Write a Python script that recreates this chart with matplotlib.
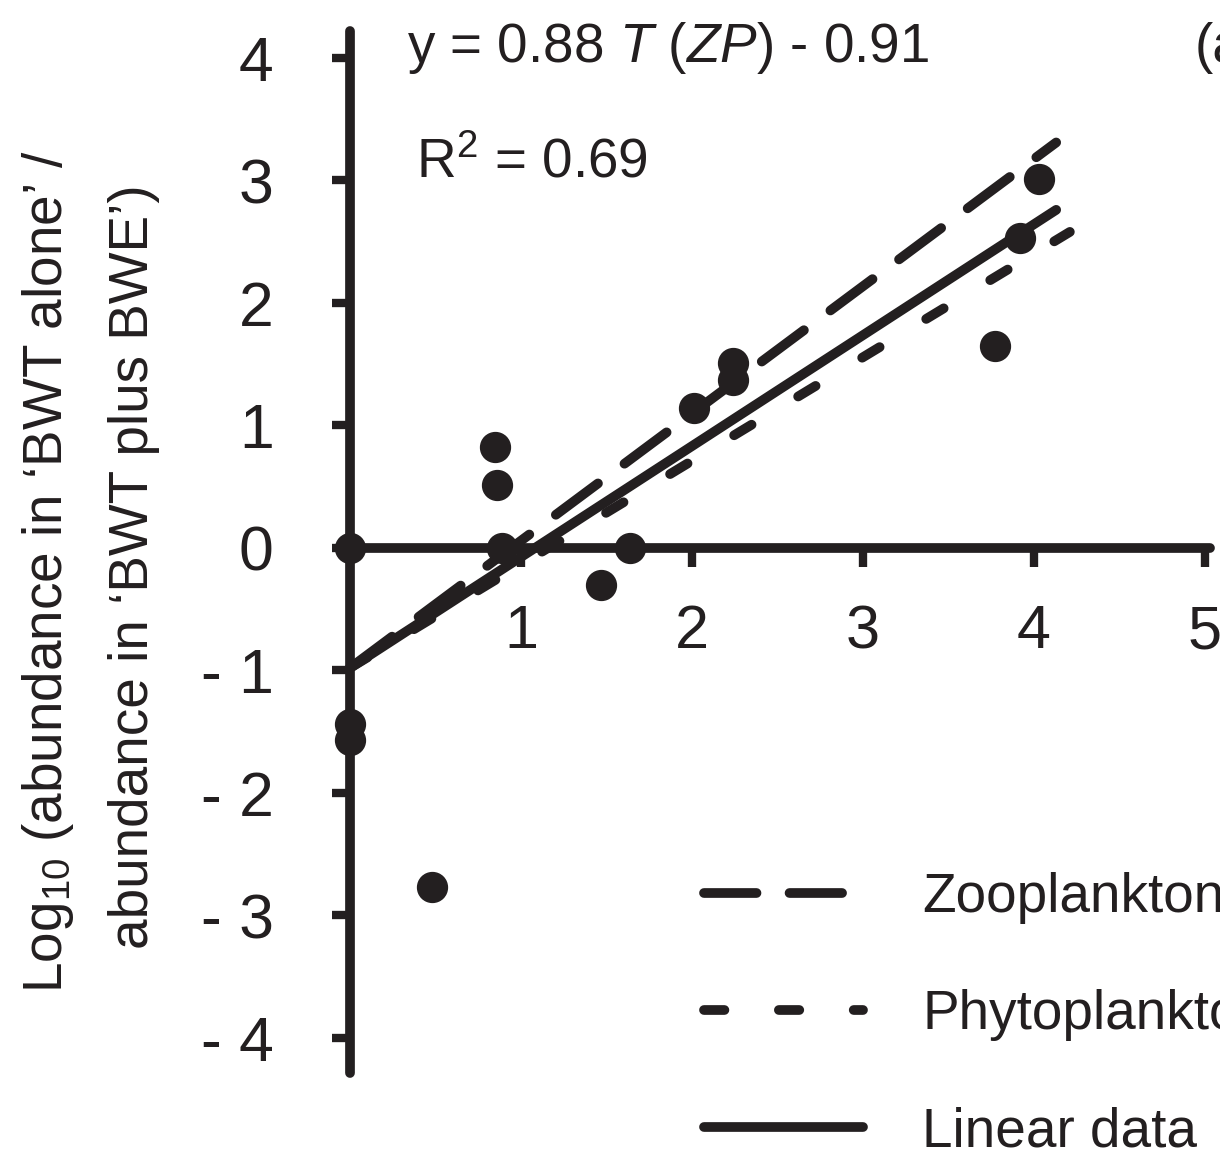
import matplotlib
matplotlib.use("Agg")
import matplotlib.pyplot as plt

plt.rcParams.update({
    "font.family": ["Liberation Sans", "DejaVu Sans"],
    "mathtext.fontset": "custom",
    "mathtext.rm": "Liberation Sans",
    "mathtext.it": "Liberation Sans:italic",
})
INK = "#231f20"
TXT = 39.5  # narrow font of the original is not available, size chosen to match widths

# data points
T_vals = [0.0, 0.0, 0.0, 0.48, 0.85, 0.86, 0.89, 1.47, 1.64, 2.01, 2.24, 2.24, 3.77, 3.92, 4.03]
log_ratio = [0.0, -1.44, -1.57, -2.77, 0.82, 0.51, 0.0, -0.30, 0.0, 1.14, 1.51, 1.37, 1.65, 2.53, 3.01]

# regression lines (end points)
zoo_x = [0.0, 4.13]
zoo_y = [-0.98, 3.31]
phyto_x = [0.0, 4.21]
phyto_y = [-0.98, 2.58]
lin_x = [0.0, 4.13]
lin_y = [-0.98, 2.76]

yticks = [4, 3, 2, 1, 0, -1, -2, -3, -4]
ytick_labels = ["4", "3", "2", "1", "0", "- 1", "- 2", "- 3", "- 4"]
xticks = [1, 2, 3, 4, 5]
xtick_labels = ["1", "2", "3", "4", "5"]

W, H = 1220, 1152
fig = plt.figure(figsize=(W / 100, H / 100), dpi=100)
ax = fig.add_axes([300 / W, 0, 920 / W, 1])
ax.set_xlim(-0.292, 5.088)
ax.set_ylim(-4.931, 4.473)

# axes crossing at the origin
for s in ["top", "right"]:
    ax.spines[s].set_visible(False)
ax.spines["left"].set_position(("data", 0))
ax.spines["bottom"].set_position(("data", 0))
ax.spines["left"].set_bounds(-4.29, 4.22)
ax.spines["bottom"].set_bounds(0, 5.03)
for s in ["left", "bottom"]:
    ax.spines[s].set_linewidth(7)
    ax.spines[s].set_color(INK)
    ax.spines[s].set_capstyle("round")

ax.set_yticks(yticks)
ax.set_yticklabels(ytick_labels, fontsize=45, color=INK)
ax.set_xticks(xticks)
ax.set_xticklabels(xtick_labels, fontsize=44, color=INK)
ax.tick_params(axis="y", direction="out", length=13, width=6, pad=42, color=INK)
ax.tick_params(axis="x", direction="out", length=13.5, width=6, pad=27, color=INK)

l_zoo, = ax.plot(zoo_x, zoo_y, color=INK, lw=7, dashes=(5.4, 3.4),
                 dash_capstyle="round", label="Zooplankton")
l_phy, = ax.plot(phyto_x, phyto_y, color=INK, lw=7, dashes=(2.1, 5.6),
                 dash_capstyle="round", label="Phytoplankton")
l_lin, = ax.plot(lin_x, lin_y, color=INK, lw=7, solid_capstyle="round",
                 label="Linear data")
ax.plot(T_vals, log_ratio, "o", ms=21.5, color=INK, zorder=5, clip_on=False)

ax.legend(handles=[l_zoo, l_phy, l_lin], loc="upper left",
          bbox_to_anchor=(704 / W, 1 - 872 / H), bbox_transform=fig.transFigure,
          frameon=False, fontsize=TXT, handlelength=2.9, handletextpad=1.08,
          labelspacing=1.19, borderpad=0, borderaxespad=0, labelcolor=INK)

fig.text(407 / W, 1 - 62 / H, r"y = 0.88 $\mathit{T}$ ($\mathit{ZP}$) - 0.91",
         fontsize=TXT, ha="left", va="baseline", color=INK)
fig.text(416 / W, 1 - 177 / H, r"R$^2$ = 0.69", fontsize=TXT,
         ha="left", va="baseline", color=INK)
fig.text(1195 / W, 1 - 62 / H, "(a)", fontsize=TXT, ha="left", va="baseline", color=INK)

fig.text(62 / W, 1 - 572 / H, r"Log$_{10}$ (abundance in ‘BWT alone’ /",
         fontsize=TXT, rotation=90, rotation_mode="anchor",
         ha="center", va="baseline", color=INK)
fig.text(148 / W, 1 - 567 / H, "abundance in ‘BWT plus BWE’)",
         fontsize=TXT, rotation=90, rotation_mode="anchor",
         ha="center", va="baseline", color=INK)

fig.savefig("out.png", dpi=100)
